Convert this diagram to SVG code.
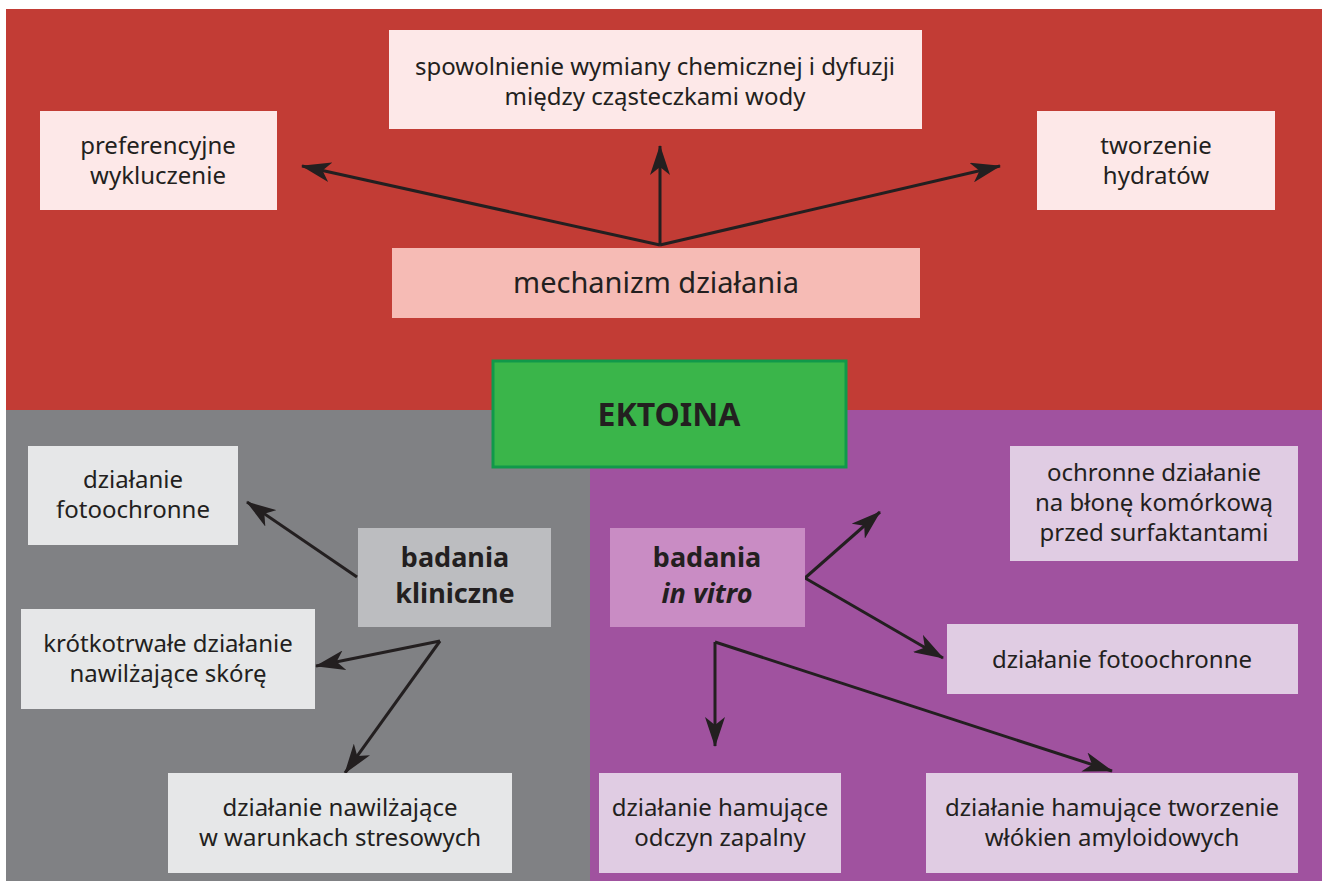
<svg xmlns="http://www.w3.org/2000/svg" width="1324" height="882" viewBox="0 0 1324 882">
<defs>
<style>
.t{font-family:"Noto Sans","Open Sans",sans-serif;font-size:24px;fill:#231f20;text-anchor:middle}
.b{font-weight:bold;font-size:27px}
.pk{fill:#fde8e8}
.gy{fill:#e6e7e8}
.lp{fill:#e0cce3}
.c{stroke:#231f20;stroke-width:3;fill:none;marker-end:url(#ah)}
</style>
<marker id="ah" viewBox="0 0 30 20" refX="29" refY="10" markerWidth="30" markerHeight="20" markerUnits="userSpaceOnUse" orient="auto">
<path d="M0,0 L30,10 L0,20 L8,10 Z" fill="#231f20"/>
</marker>
</defs>
<rect width="1324" height="882" fill="#ffffff"/>
<rect x="6" y="9" width="1316" height="402" fill="#c23c35"/>
<rect x="6" y="410" width="585" height="471" fill="#808184"/>
<rect x="590" y="410" width="732" height="471" fill="#a0529f"/>

<g id="connectors">
<line class="c" x1="660" y1="245" x2="302" y2="166"/>
<line class="c" x1="660" y1="245" x2="660" y2="146"/>
<line class="c" x1="660" y1="245" x2="1000" y2="166"/>
<line class="c" x1="357" y1="577" x2="247" y2="502"/>
<polyline class="c" points="440,641 316,666"/>
<line class="c" x1="440" y1="641" x2="345" y2="773"/>
<line class="c" x1="805" y1="578" x2="880" y2="512"/>
<line class="c" x1="805" y1="578" x2="943" y2="658"/>
<polyline class="c" points="715,642 715,746"/>
<line class="c" x1="715" y1="642" x2="1112" y2="771"/>
</g>

<g id="spowolnienie"><rect class="pk" x="389" y="30" width="533" height="99"/>
<text class="t" x="655" y="75">spowolnienie wymiany chemicznej i dyfuzji</text>
<text class="t" x="655" y="105">między cząsteczkami wody</text></g>

<g id="preferencyjne"><rect class="pk" x="40" y="111" width="237" height="99"/>
<text class="t" x="158" y="154">preferencyjne</text>
<text class="t" x="158" y="184">wykluczenie</text></g>

<g id="hydraty"><rect class="pk" x="1037" y="111" width="238" height="99"/>
<text class="t" x="1156" y="154">tworzenie</text>
<text class="t" x="1156" y="184">hydratów</text></g>

<g id="mechanizm"><rect fill="#f6bbb5" x="392" y="248" width="528" height="70"/>
<text class="t" x="656" y="293" style="font-size:29px">mechanizm działania</text></g>

<g id="ektoina"><rect fill="#3ab54a" stroke="#10994a" stroke-width="3" x="493" y="361" width="353" height="106"/>
<text class="t b" x="669" y="426" style="font-size:32px">EKTOINA</text></g>

<g id="fotoochronne-l"><rect class="gy" x="28" y="446" width="210" height="99"/>
<text class="t" x="133" y="488">działanie</text>
<text class="t" x="133" y="518">fotoochronne</text></g>

<g id="kliniczne"><rect fill="#bcbdc0" x="358" y="528" width="193" height="99"/>
<text class="t b" x="455" y="567">badania</text>
<text class="t b" x="455" y="603">kliniczne</text></g>

<g id="krotkotrwale"><rect class="gy" x="21" y="609" width="294" height="100"/>
<text class="t" x="168" y="652">krótkotrwałe działanie</text>
<text class="t" x="168" y="682">nawilżające skórę</text></g>

<g id="stresowe"><rect class="gy" x="168" y="773" width="344" height="100"/>
<text class="t" x="340" y="816">działanie nawilżające</text>
<text class="t" x="340" y="846">w warunkach stresowych</text></g>

<g id="surfaktanty"><rect class="lp" x="1010" y="446" width="288" height="115"/>
<text class="t" x="1154" y="481">ochronne działanie</text>
<text class="t" x="1154" y="511">na błonę komórkową</text>
<text class="t" x="1154" y="541">przed surfaktantami</text></g>

<g id="invitro"><rect fill="#c98cc4" x="610" y="528" width="195" height="99"/>
<text class="t b" x="707" y="567">badania</text>
<text class="t b" x="707" y="603" style="font-style:italic">in vitro</text></g>

<g id="fotoochronne-r"><rect class="lp" x="947" y="624" width="351" height="70"/>
<text class="t" x="1122" y="668">działanie fotoochronne</text></g>

<g id="zapalny"><rect class="lp" x="599" y="773" width="242" height="100"/>
<text class="t" x="720" y="816">działanie hamujące</text>
<text class="t" x="720" y="846">odczyn zapalny</text></g>

<g id="amyloid"><rect class="lp" x="926" y="773" width="372" height="100"/>
<text class="t" x="1112" y="816">działanie hamujące tworzenie</text>
<text class="t" x="1112" y="846">włókien amyloidowych</text></g>
</svg>
